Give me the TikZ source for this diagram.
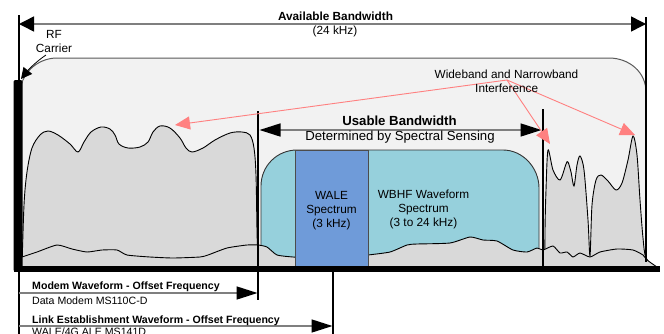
\documentclass[tikz,border=0pt]{standalone}
\usepackage{fontspec}
\setmainfont{Liberation Sans}
\usetikzlibrary{arrows.meta}
\definecolor{boxgray}{HTML}{F2F2F2}
\definecolor{humpgray}{HTML}{D9D9D9}
\definecolor{wbcyan}{HTML}{96D0DC}
\definecolor{waleblue}{HTML}{6F9BD9}
\definecolor{intred}{HTML}{FF8080}
\definecolor{shaftgray}{HTML}{7F7F7F}
\definecolor{edgegray}{HTML}{595959}
\begin{document}
\begin{tikzpicture}[x=1pt,y=-1pt,
  dimline/.style={draw=shaftgray, line width=1.5pt},
  bigtips/.style={{Triangle[length=15pt,width=15pt,color=black]}-{Triangle[length=15pt,width=15pt,color=black]}},
  longtips/.style={{Triangle[length=21pt,width=13pt,color=black]}-{Triangle[length=21pt,width=13pt,color=black]}},
  longtip/.style={-{Triangle[length=21pt,width=13pt,color=black]}},
  redarrow/.style={draw=intred, line width=0.9pt, -{Triangle[length=15pt,width=13pt,color=intred]}},
  vline/.style={draw=black, line width=1.5pt},
  humpstyle/.style={fill=humpgray, draw=black, line width=0.9pt},
  txt/.style={anchor=base, inner sep=0pt, font=\fontsize{11.8}{14}\selectfont},
  btxt/.style={anchor=base, inner sep=0pt, font=\bfseries\fontsize{11.8}{14}\selectfont},
  utxt/.style={anchor=base, inner sep=0pt, font=\fontsize{13.2}{15}\selectfont},
  ubtxt/.style={anchor=base, inner sep=0pt, font=\bfseries\fontsize{13.2}{15}\selectfont},
  stxt/.style={anchor=base west, inner sep=0pt, font=\fontsize{10.6}{12}\selectfont},
  sbtxt/.style={anchor=base west, inner sep=0pt, font=\bfseries\fontsize{10.6}{12}\selectfont}
]
\useasboundingbox (0,0) rectangle (664,333);

% outer rounded box
\filldraw[fill=boxgray, draw=edgegray, line width=1pt]
  (20,268) -- (20,94) .. controls (20,74) and (37,58) .. (57,58) -- (609,58)
  .. controls (629,58) and (646,72) .. (646,92) -- (646,268) -- cycle;

% left hump
\filldraw[humpstyle] plot[smooth,tension=0.55] coordinates {(22,268) (24,205) (27,172) (32,148) (40,135) (48,131) (58,135) (70,144) (78,152) (84,142) (91,132) (101,127) (110,129) (115,135) (119,144) (128,148) (140,147) (148,142) (153,132) (160,126) (170,128) (180,138) (186,148) (192,152) (203,148) (215,140) (230,133) (242,132) (250,135) (254,148) (256,175) (257,230) (258,268)} -- cycle;

% right peaks
\filldraw[humpstyle] plot[smooth,tension=0.5] coordinates {(545,268) (545,230) (546,190) (548,150) (553,170) (560,180) (566,164) (568,162) (571,172) (574,186) (577,165) (580,156) (584,170) (588,220) (590,256) (592,205) (596,180) (601,175) (608,181) (616,190) (622,183) (628,160) (633,136) (637,155) (640,200) (643,238) (646,258) (656,268)} -- cycle;

% WBHF cyan box
\filldraw[fill=wbcyan, draw=black!80, line width=0.9pt]
  (261,268) -- (261,186) .. controls (261,166) and (277,150) .. (297,150) -- (503,150)
  .. controls (523,150) and (539,168) .. (539,188) -- (539,268) -- cycle;

% noise floor
\fill[humpgray] plot[smooth,tension=0.35] coordinates {(22,257) (37,252) (57,245) (72,249) (87,252) (102,250) (117,250) (127,255) (150,257) (173,258) (200,257) (208,255) (227,248) (247,245) (258,245) (267,247) (277,255) (293,257) (300,257) (360,256) (368,255) (390,252) (407,245) (417,244) (450,243) (470,237) (483,240) (497,241) (513,250) (527,252) (537,248) (543,250) (553,246) (560,253) (567,252) (573,257) (580,253) (590,257) (600,252) (617,249) (633,250) (643,255) (647,260) (657,267)} -- (657,271) -- (22,271) -- cycle;
\draw[black, line width=0.9pt] plot[smooth,tension=0.35] coordinates {(22,257) (37,252) (57,245) (72,249) (87,252) (102,250) (117,250) (127,255) (150,257) (173,258) (200,257) (208,255) (227,248) (247,245) (258,245) (267,247) (277,255) (293,257) (300,257) (360,256) (368,255) (390,252) (407,245) (417,244) (450,243) (470,237) (483,240) (497,241) (513,250) (527,252) (537,248) (543,250) (553,246) (560,253) (567,252) (573,257) (580,253) (590,257) (600,252) (617,249) (633,250) (643,255) (647,260) (657,267)};

% WALE block
\filldraw[fill=waleblue, draw=black!70, line width=0.9pt] (295,150.5) rectangle (368.5,268);

% coordinates
\coordinate (avL) at (19,24);
\coordinate (avR) at (646,24);
\coordinate (leftTop) at (19,15);
\coordinate (leftBot) at (19,345);
\coordinate (rightTop) at (646,17);
\coordinate (rightBot) at (646,262);
\coordinate (modTop) at (258,111);
\coordinate (modBot) at (258,300);
\coordinate (wbTop) at (543,109);
\coordinate (wbBot) at (543,268);
\coordinate (aleTop) at (333,268);
\coordinate (aleBot) at (333,345);
\coordinate (usL) at (259.5,130);
\coordinate (usR) at (541.5,130);
\coordinate (modL) at (19,293);
\coordinate (modR) at (257.5,293);
\coordinate (linkL) at (19,326);
\coordinate (linkR) at (332.5,326);
\coordinate (axL) at (14,269);
\coordinate (axR) at (660,269);
\coordinate (redO) at (507,80);
\coordinate (redA) at (175,125);
\coordinate (redB) at (550,144);
\coordinate (redC) at (635,135);
\coordinate (carS) at (46,55);
\coordinate (carE) at (21,79);

% vertical lines
\draw[vline] (leftTop) -- (leftBot);
\draw[vline] (rightTop) -- (rightBot);
\draw[vline] (modTop) -- (modBot);
\draw[vline] (wbTop) -- (wbBot);
\draw[vline] (aleTop) -- (aleBot);

% RF carrier bar and axis
\fill[black, rounded corners=2pt] (13.5,80) rectangle (22.5,271.5);
\draw[black, line width=5.5pt] (axL) -- (axR);

% dimension arrows
\draw[dimline, bigtips] (avL) -- (avR);
\draw[dimline, longtips] (usL) -- (usR);
\draw[dimline, longtip] (modL) -- (modR);
\draw[dimline, longtip] (linkL) -- (linkR);

% carrier arrow
\draw[black, line width=0.8pt, -{Triangle[length=11pt,width=11pt]}] (carS) .. controls (37,61) and (29,69) .. (carE);

% interference arrows
\draw[redarrow] (redO) -- (redA);
\draw[redarrow] (redO) -- (redB);
\draw[redarrow] (redO) -- (redC);

% texts
\node[btxt] (tAvail) at (335.5,20.7) {Available Bandwidth};
\node[txt] (tAvail2) at (335,34.5) {(24 kHz)};
\node[txt] (tRF) at (54,38.3) {RF};
\node[txt] (tCar) at (54,52.5) {Carrier};
\node[txt] (tWide) at (506.5,78) {Wideband and Narrowband};
\node[txt] (tInt) at (506.7,92.5) {Interference};
\node[ubtxt] (tUse) at (399.5,125) {Usable Bandwidth};
\node[utxt] (tDet) at (400,140) {Determined by Spectral Sensing};
\node[txt] (tW1) at (331.5,199.5) {WALE};
\node[txt] (tW2) at (331.5,213.5) {Spectrum};
\node[txt] (tW3) at (331.5,227.5) {(3 kHz)};
\node[txt] (tB1) at (423.5,198.5) {WBHF Waveform};
\node[txt] (tB2) at (423.5,212.5) {Spectrum};
\node[txt] (tB3) at (423.5,226.5) {(3 to 24 kHz)};
\node[sbtxt] (tMod) at (32,289.3) {Modem Waveform - Offset Frequency};
\node[stxt] (tMod2) at (32,304.3) {Data Modem MS110C-D};
\node[sbtxt] (tLink) at (32,323.3) {Link Establishment Waveform - Offset Frequency};
\node[stxt] (tLink2) at (32,335.3) {WALE/4G ALE MS141D};
\end{tikzpicture}
\end{document}
